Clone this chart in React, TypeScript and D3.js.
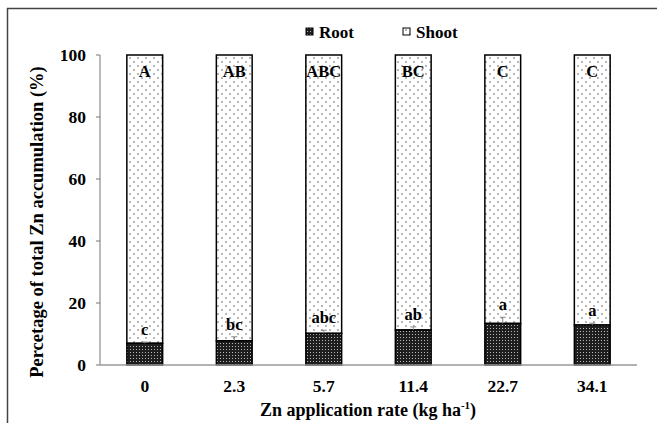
import * as d3 from 'd3';

const rates = ['0', '2.3', '5.7', '11.4', '22.7', '34.1'];
const rootPct = [7.0, 7.8, 10.2, 11.3, 13.4, 12.9];
const rootErr = [0.4, 1.3, 1.0, 1.0, 2.0, 0.6];
const shootLetters = ['A', 'AB', 'ABC', 'BC', 'C', 'C'];
const rootLetters = ['c', 'bc', 'abc', 'ab', 'a', 'a'];
const yTicks = [0, 20, 40, 60, 80, 100];

const W = 657;
const H = 423;
const margin = { top: 55, right: 20, bottom: 57, left: 100 };
const font = '"Liberation Serif", "Times New Roman", serif';

export default function App() {
  const x = d3
    .scaleBand<string>()
    .domain(rates)
    .range([margin.left, 637])
    .paddingInner(0.6)
    .paddingOuter(0.3);
  const y = d3
    .scaleLinear()
    .domain([0, 100])
    .range([H - margin.bottom - 1, margin.top]);
  const bw = x.bandwidth();

  return (
    <div style={{ position: 'fixed', left: 0, top: 0 }}>
      <svg width={W} height={H} style={{ display: 'block', background: '#fff' }}>
        <defs>
          <pattern id="rootPat" width={3} height={3} patternUnits="userSpaceOnUse">
            <rect width={3} height={3} fill="#1e1e1e" />
            <rect x={1} y={1} width={1} height={1} fill="#b8b8b8" />
          </pattern>
          <pattern id="shootPat" width={8} height={8} patternUnits="userSpaceOnUse">
            <rect width={8} height={8} fill="#fff" />
            <circle cx={2} cy={2} r={0.65} fill="#333" />
            <circle cx={6} cy={6} r={0.65} fill="#333" />
          </pattern>
        </defs>

        {/* outer frame */}
        <rect x={7.5} y={8.5} width={670} height={440} fill="none" stroke="#444" strokeWidth={1.5} />

        {/* legend */}
        <rect x={306} y={28} width={7} height={7} fill="url(#rootPat)" stroke="#000" strokeWidth={1} />
        <text x={319} y={38} fontFamily={font} fontWeight="bold" fontSize={17}>Root</text>
        <rect x={403} y={28} width={7} height={7} fill="url(#shootPat)" stroke="#000" strokeWidth={1} />
        <text x={416} y={38} fontFamily={font} fontWeight="bold" fontSize={17}>Shoot</text>

        {/* y axis */}
        <line x1={margin.left} x2={margin.left} y1={y(100)} y2={y(0)} stroke="#777" strokeWidth={1} />
        {yTicks.map((t) => (
          <g key={t}>
            <line x1={margin.left - 4} x2={margin.left} y1={y(t)} y2={y(t)} stroke="#777" />
            <text
              x={86}
              y={y(t) + 6}
              textAnchor="end"
              fontFamily={font}
              fontWeight="bold"
              fontSize={17.5}
            >
              {t}
            </text>
          </g>
        ))}

        {/* bars */}
        {rates.map((r, i) => {
          const x0 = x(r) as number;
          const cx = x0 + bw / 2;
          const eTop = y(rootPct[i] + rootErr[i]);
          return (
            <g key={r}>
              <rect
                x={x0}
                y={y(100)}
                width={bw}
                height={y(rootPct[i]) - y(100)}
                fill="url(#shootPat)"
                stroke="#000"
                strokeWidth={1.5}
              />
              <rect
                x={x0}
                y={y(rootPct[i])}
                width={bw}
                height={y(0) - y(rootPct[i])}
                fill="url(#rootPat)"
                stroke="#000"
                strokeWidth={1.5}
              />
              <line x1={cx} x2={cx} y1={y(rootPct[i])} y2={eTop} stroke="#888" strokeWidth={1} />
              <line x1={cx - 3} x2={cx + 3} y1={eTop} y2={eTop} stroke="#888" strokeWidth={1} />
              <text
                x={cx}
                y={77}
                textAnchor="middle"
                fontFamily={font}
                fontWeight="bold"
                fontSize={16.5}
              >
                {shootLetters[i]}
              </text>
              <text
                x={cx}
                y={eTop - 7}
                textAnchor="middle"
                fontFamily={font}
                fontWeight="bold"
                fontSize={16.5}
              >
                {rootLetters[i]}
              </text>
              <text
                x={cx}
                y={392}
                textAnchor="middle"
                fontFamily={font}
                fontWeight="bold"
                fontSize={17.5}
              >
                {r}
              </text>
            </g>
          );
        })}

        {/* x axis */}
        <line x1={margin.left} x2={637} y1={y(0)} y2={y(0)} stroke="#999" strokeWidth={1.5} />

        {/* titles */}
        <text
          x={368}
          y={416}
          textAnchor="middle"
          fontFamily={font}
          fontWeight="bold"
          fontSize={18}
        >
          Zn application rate (kg ha
          <tspan dy={-7} fontSize={11}>-1</tspan>
          <tspan dy={7}>)</tspan>
        </text>
        <text
          transform="translate(43, 222) rotate(-90)"
          textAnchor="middle"
          fontFamily={font}
          fontWeight="bold"
          fontSize={18.5}
        >
          Percetage of total Zn accumulation (%)
        </text>
      </svg>
    </div>
  );
}
